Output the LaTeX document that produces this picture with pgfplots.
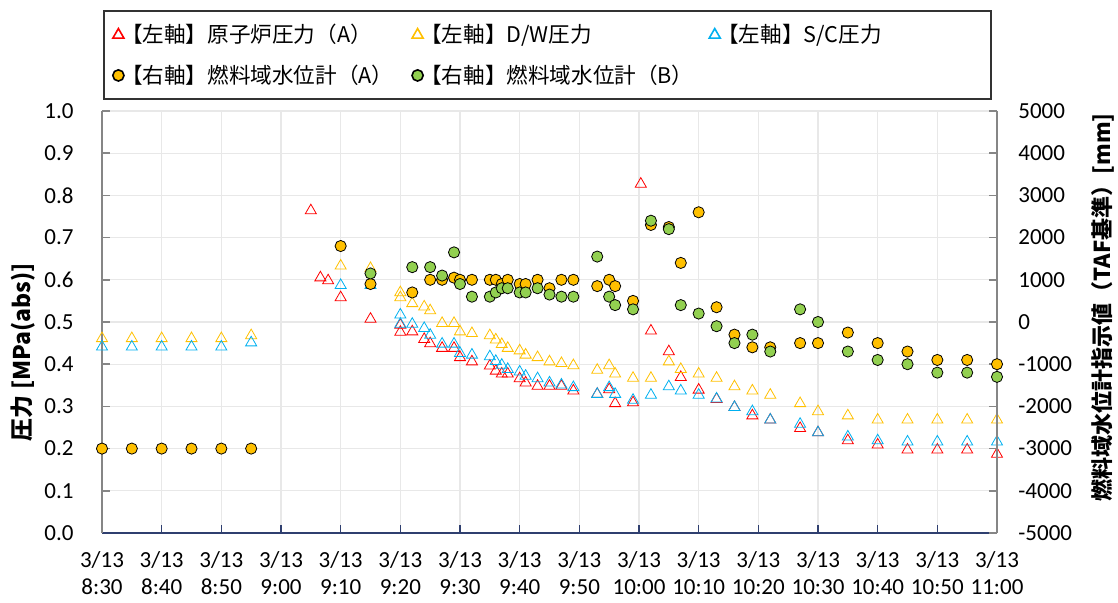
\documentclass[border=0pt]{standalone}
\usepackage{pgfplots}
\pgfplotsset{compat=1.18}
\usepackage{fontspec}
\setmainfont{Carlito}
\newfontfamily\jp{Noto Sans CJK JP}
\definecolor{cRed}{HTML}{FF0000}
\definecolor{cOrg}{HTML}{FFC000}
\definecolor{cBlue}{HTML}{00B0F0}
\definecolor{cGreen}{HTML}{92D050}
\definecolor{axgray}{HTML}{868686}
\definecolor{axnavy}{HTML}{2F3F6F}
\definecolor{gridc}{HTML}{E8E8E8}

\pgfplotstableread{
x y
35 0.764
36.6 0.605
37.9 0.598
40 0.558
45 0.507
50 0.493
50 0.476
52 0.477
54 0.459
55 0.449
57 0.438
59 0.438
60 0.416
62 0.406
65 0.396
66 0.384
67 0.377
68 0.377
70 0.366
71 0.356
73 0.348
75 0.348
77 0.348
79 0.337
83 0.329
85 0.340
86 0.307
89 0.309
90.3 0.827
92 0.479
95 0.430
97 0.369
100 0.339
103 0.317
106 0.298
109 0.278
112 0.268
117 0.248
120 0.238
125 0.219
130 0.209
135 0.197
140 0.197
145 0.197
150 0.187
}\redtab

\pgfplotstableread{
x y
0 0.461
5 0.461
10 0.461
15 0.461
20 0.461
25 0.468
40 0.633
45 0.627
50 0.570
50 0.558
52 0.544
54 0.536
55 0.527
57 0.497
59 0.497
60 0.477
62 0.473
65 0.468
66 0.458
67 0.447
68 0.438
70 0.432
71 0.422
73 0.416
75 0.406
77 0.402
79 0.397
83 0.386
85 0.397
86 0.377
89 0.367
92 0.367
95 0.406
97 0.388
100 0.377
103 0.367
106 0.347
109 0.337
112 0.327
117 0.307
120 0.288
125 0.278
130 0.268
135 0.268
140 0.268
145 0.268
150 0.268
}\dwtab

\pgfplotstableread{
x y
0 0.441
5 0.441
10 0.441
15 0.441
20 0.441
25 0.451
40 0.587
45 0.587
50 0.517
50 0.495
52 0.495
54 0.485
55 0.469
57 0.448
59 0.448
60 0.426
62 0.422
65 0.418
66 0.407
67 0.398
68 0.388
70 0.382
71 0.372
73 0.366
75 0.356
77 0.351
79 0.345
83 0.329
85 0.345
86 0.329
89 0.315
92 0.327
95 0.347
97 0.337
100 0.327
103 0.318
106 0.298
109 0.288
112 0.268
117 0.258
120 0.238
125 0.228
130 0.219
135 0.216
140 0.216
145 0.216
150 0.216
}\sctab

\pgfplotstableread{
x y
0 -3000
5 -3000
10 -3000
15 -3000
20 -3000
25 -3000
40 1800
45 900
52 700
55 1000
57 1000
59 1050
60 1000
62 1000
65 1000
66 1000
67 900
68 1000
70 900
71 900
73 1000
75 800
77 1000
79 1000
83 850
85 1000
86 850
89 500
92 2300
95 2250
97 1400
100 2600
103 350
106 -300
109 -600
112 -600
117 -500
120 -500
125 -250
130 -500
135 -700
140 -900
145 -900
150 -1000
}\fatab

\pgfplotstableread{
x y
45 1150
52 1300
55 1300
57 1100
59 1650
60 900
62 600
65 600
66 700
67 800
68 800
70 700
71 700
73 800
75 650
77 600
79 600
83 1550
85 600
86 400
89 300
92 2400
95 2200
97 400
100 200
103 -100
106 -500
109 -300
112 -700
117 300
120 0
125 -700
130 -900
135 -1000
140 -1200
145 -1200
150 -1300
}\fbtab

\pgfplotsset{
  base/.style={
    scale only axis, width=447.5pt, height=211pt,
    at={(0,0)}, anchor=south west,
    xmin=0, xmax=150,
    tick label style={font=\fontsize{11.5}{13.5}\selectfont},
    /pgf/number format/assume math mode=true,
    /pgf/number format/1000 sep={},
    scaled y ticks=false,
    tick align=inside,
    major tick length=4pt,
    clip=false,
  },
  tri/.style={only marks, mark=triangle, mark size=3.2pt, mark options={line width=0.6pt, fill=none}},
  circ/.style={only marks, mark=*, mark size=2.8pt, mark options={draw=black!85, line width=0.6pt}},
}

\begin{document}
\begin{tikzpicture}
\begin{axis}[base,
  axis y line*=left, axis x line*=bottom,
  ymin=0, ymax=1,
  ytick={0,0.1,0.2,0.3,0.4,0.5,0.6,0.7,0.8,0.9,1.0},
  yticklabel style={/pgf/number format/fixed, /pgf/number format/fixed zerofill, /pgf/number format/precision=1, inner sep=0pt, xshift=-14pt},
  xtick={0,10,...,150},
  xticklabels={{3/13\\8:30},{3/13\\8:40},{3/13\\8:50},{3/13\\9:00},{3/13\\9:10},{3/13\\9:20},{3/13\\9:30},{3/13\\9:40},{3/13\\9:50},{3/13\\10:00},{3/13\\10:10},{3/13\\10:20},{3/13\\10:30},{3/13\\10:40},{3/13\\10:50},{3/13\\11:00}},
  xticklabel style={align=center, inner sep=0pt, yshift=-9pt, font=\fontsize{11.5}{13.5}\selectfont},
  x axis line style={axnavy, line width=1pt},
  y axis line style={axgray, line width=1pt},
  xtick style={axnavy, line width=0.8pt},
  ytick style={axgray, line width=0.8pt},
  grid=major, major grid style={gridc, line width=0.6pt},
  ylabel={\fontsize{11.5}{13}\selectfont\jp\bfseries 圧力 [MPa(abs)]},
  ylabel style={at={(axis description cs:-0.088,0.64)}, anchor=east, inner sep=0pt},
  legend columns=3,
  legend cell align=left,
  legend image code/.code={\draw[#1] plot coordinates {(0pt,0pt)};},
  legend style={at={(0,1)}, anchor=south west, xshift=0.5pt, yshift=5.5pt,
    draw=black!80, line width=0.8pt, inner xsep=4.5pt, inner ysep=4.5pt,
    row sep=5.5pt,
    font=\jp\fontsize{10.8}{12.5}\selectfont,
    nodes={inner xsep=1.5pt, inner ysep=2pt}},
]
\addplot[tri, cRed, mark options={draw=cRed}] table[x=x,y=y] {\redtab};
\addlegendentry{\makebox[141pt][l]{\kern-3pt【左軸】原子炉圧力（A）}}
\addplot[tri, cOrg, mark options={draw=cOrg}] table[x=x,y=y] {\dwtab};
\addlegendentry{\makebox[140pt][l]{\kern-3pt【左軸】D/W圧力}}
\addplot[tri, cBlue, mark options={draw=cBlue}] table[x=x,y=y] {\sctab};
\addlegendentry{\makebox[128pt][l]{\kern-3pt【左軸】S/C圧力}}
\addlegendimage{circ, fill=cOrg, mark options={fill=cOrg}}
\addlegendentry{\makebox[141pt][l]{\kern-3pt【右軸】燃料域水位計（A）}}
\addlegendimage{circ, fill=cGreen, mark options={fill=cGreen}}
\addlegendentry{\makebox[140pt][l]{\kern-3pt【右軸】燃料域水位計（B）}}
\end{axis}
\begin{axis}[base,
  axis y line*=right, axis x line=none,
  ymin=-5000, ymax=5000,
  ytick={-5000,-4000,-3000,-2000,-1000,0,1000,2000,3000,4000,5000},
  yticklabel style={inner sep=0pt, xshift=10.5pt, anchor=west},
  y axis line style={axgray, line width=1pt},
  ytick style={axgray, line width=0.8pt},
  ylabel={\fontsize{11}{13}\selectfont\jp\bfseries 燃料域水位計指示値（TAF基準）[mm]},
  ylabel style={at={(axis description cs:1.118,0.995)}, anchor=east, inner sep=0pt},
]
\addplot[circ, fill=cOrg, mark options={fill=cOrg}] table[x=x,y=y] {\fatab};
\addplot[circ, fill=cGreen, mark options={fill=cGreen}] table[x=x,y=y] {\fbtab};
\end{axis}
\pgfresetboundingbox
\path (-51pt,-35pt) rectangle (508pt,266.5pt);
\end{tikzpicture}
\end{document}
